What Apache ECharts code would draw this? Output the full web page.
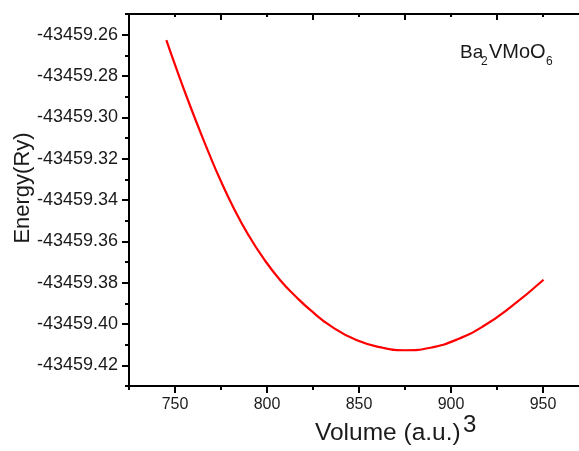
<!DOCTYPE html>
<html>
<head>
<meta charset="utf-8">
<script src="https://cdn.jsdelivr.net/npm/echarts@6/dist/echarts.min.js"></script>
<style>html,body{margin:0;padding:0;background:#fff;}#c{width:579px;height:451px;}</style>
</head>
<body>
<div id="c"></div>
<script>
// Data
const volume = [745.3, 751.1, 756.5, 762.0, 768.3, 774.6, 781.8, 790.0, 798.2, 807.2, 816.3, 823.5, 834.4, 848.9, 863.4, 875.2, 888.8, 903.3, 917.7, 932.2, 950.3];
const energy = [-43459.2626, -43459.2773, -43459.2904, -43459.3031, -43459.3171, -43459.3302, -43459.3437, -43459.3571, -43459.3684, -43459.3788, -43459.3873, -43459.3932, -43459.4008, -43459.4079, -43459.4116, -43459.4127, -43459.4115, -43459.4075, -43459.4010, -43459.3920, -43459.3786];
const xTickLabels = [750, 800, 850, 900, 950];
const yTickLabels = ['-43459.26','-43459.28','-43459.30','-43459.32','-43459.34','-43459.36','-43459.38','-43459.40','-43459.42'];
const xTitle = 'Volume (a.u.)';
const xTitleSup = '3';
const yTitle = 'Energy(Ry)';

const FONT = 'Liberation Sans, Arial, sans-serif';
const TXT = '#1a1a1a';
const line = {show: true, lineStyle: {color: '#000', width: 2}};
const noLine = {show: false};

const X0 = 129, Y0 = 14, W = 460, H = 372;      // full plot box
const pxPerX = W / 250, pxPerY = H / 0.18;

const chart = echarts.init(document.getElementById('c'), null, {renderer: 'canvas'});
chart.setOption({
  animation: false,
  backgroundColor: '#fff',
  grid: [
    {left: X0, top: Y0, width: W, height: H, outerBoundsMode: 'none', containLabel: false},
    {left: X0 + 25 * pxPerX, top: Y0, width: 200 * pxPerX, height: H, outerBoundsMode: 'none', containLabel: false},
    {left: X0, top: Y0 + 0.01 * pxPerY, width: W, height: 0.16 * pxPerY, outerBoundsMode: 'none', containLabel: false},
    {left: X0 + 50 * pxPerX, top: Y0, width: 150 * pxPerX, height: H, outerBoundsMode: 'none', containLabel: false}
  ],
  xAxis: [
    {gridIndex: 0, type: 'value', position: 'bottom', min: 725, max: 975, interval: 25,
      axisLine: line, axisTick: {show: true, inside: false, length: 4, lineStyle: {width: 2, color: '#000'}},
      axisLabel: {show: false}, splitLine: {show: false}},
    {gridIndex: 0, type: 'value', position: 'top', min: 725, max: 975, interval: 25,
      axisLine: line, axisTick: {show: true, inside: true, length: 3, lineStyle: {width: 2, color: '#000'}},
      axisLabel: {show: false}, splitLine: {show: false}},
    {gridIndex: 1, type: 'value', position: 'bottom', min: 750, max: 950, interval: 50,
      axisLine: noLine, axisTick: {show: true, inside: false, length: 7, lineStyle: {width: 2, color: '#000'}},
      axisLabel: {show: true, margin: 11, color: TXT, fontSize: 16, fontFamily: FONT,
        formatter: v => (xTickLabels.indexOf(Math.round(v)) >= 0 ? String(Math.round(v)) : '')},
      splitLine: {show: false}},
    {gridIndex: 2, type: 'value', show: false, min: 725, max: 975},
    {gridIndex: 3, type: 'value', position: 'top', min: 775, max: 925, interval: 50,
      axisLine: noLine, axisTick: {show: true, inside: true, length: 6, lineStyle: {width: 2, color: '#000'}},
      axisLabel: {show: false}, splitLine: {show: false}}
  ],
  yAxis: [
    {gridIndex: 0, type: 'value', position: 'left', min: -43459.43, max: -43459.25, interval: 0.02,
      axisLine: line, axisTick: {show: true, inside: false, length: 4, lineStyle: {width: 2, color: '#000'}},
      axisLabel: {show: false}, splitLine: {show: false}},
    {gridIndex: 1, type: 'value', show: false, min: -43459.43, max: -43459.25},
    {gridIndex: 2, type: 'value', position: 'left', min: -43459.42, max: -43459.26, interval: 0.02,
      axisLine: noLine, axisTick: {show: true, inside: false, length: 7, lineStyle: {width: 2, color: '#000'}},
      axisLabel: {show: true, margin: 11, color: TXT, fontSize: 18, fontFamily: FONT,
        formatter: v => { const s = v.toFixed(2); return yTickLabels.indexOf(s) >= 0 ? s : ''; }},
      splitLine: {show: false}},
    {gridIndex: 3, type: 'value', show: false, min: -43459.43, max: -43459.25}
  ],
  series: [{
    type: 'line', xAxisIndex: 0, yAxisIndex: 0,
    data: volume.map((v, i) => [v, energy[i]]),
    smooth: 0.5, showSymbol: false, symbol: 'none', clip: false,
    lineStyle: {color: '#ff0000', width: 2.2}
  }],
  graphic: [
    {type: 'text', x: 23, y: 188, rotation: Math.PI / 2,
      style: {text: yTitle, font: '22px ' + FONT, fill: TXT, align: 'center', verticalAlign: 'middle'}},
    {type: 'text', x: 315, y: 446,
      style: {text: xTitle, font: '24.5px ' + FONT, fill: TXT, align: 'left', verticalAlign: 'bottom'}},
    {type: 'text', x: 463, y: 437,
      style: {text: xTitleSup, font: '24px ' + FONT, fill: TXT, align: 'left', verticalAlign: 'bottom'}},
    {type: 'text', x: 460, y: 62,
      style: {text: 'Ba', font: '19px ' + FONT, fill: TXT, align: 'left', verticalAlign: 'bottom'}},
    {type: 'text', x: 481, y: 68,
      style: {text: '2', font: '12px ' + FONT, fill: TXT, align: 'left', verticalAlign: 'bottom'}},
    {type: 'text', x: 489, y: 62,
      style: {text: 'VMoO', font: '20px ' + FONT, fill: TXT, align: 'left', verticalAlign: 'bottom'}},
    {type: 'text', x: 546, y: 68,
      style: {text: '6', font: '12px ' + FONT, fill: TXT, align: 'left', verticalAlign: 'bottom'}}
  ]
});
</script>
</body>
</html>
